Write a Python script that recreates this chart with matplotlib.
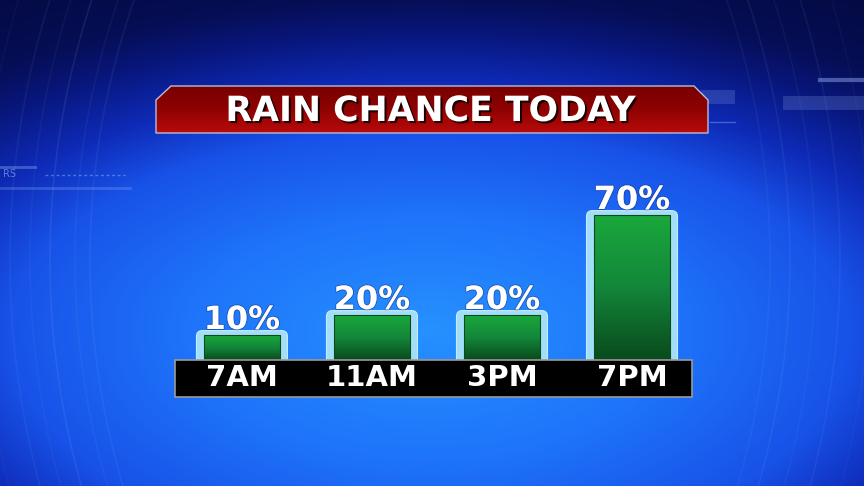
import numpy as np
import matplotlib
matplotlib.use('Agg')
import matplotlib.pyplot as plt
from matplotlib.patches import Polygon, Rectangle, Arc, FancyBboxPatch
from matplotlib.colors import LinearSegmentedColormap
import matplotlib.patheffects as pe

# ---- data ----
categories = ['7AM', '11AM', '3PM', '7PM']
rain_chance = [10, 20, 20, 70]
title_text = 'RAIN CHANCE TODAY'

W, H = 864, 486
fig = plt.figure(figsize=(W / 100, H / 100), dpi=100)

# ---- background (pixel coordinates) ----
bg = fig.add_axes([0, 0, 1, 1])
bg.set_xlim(0, W)
bg.set_ylim(H, 0)
bg.axis('off')

yy, xx = np.mgrid[0:H, 0:W] + 0.5
ry = np.where(yy < 330, 330.0, 380.0)
d = np.sqrt(((xx - 430) / 700) ** 2 + ((yy - 330) / ry) ** 2)
stops_d = [0.0, 0.35, 0.6, 0.75, 0.9, 1.0, 1.3]
stops_c = np.array([[38, 145, 255], [30, 115, 250], [24, 82, 232], [14, 42, 182],
                    [8, 22, 122], [6, 14, 85], [3, 8, 55]]) / 255.0
img = np.stack([np.interp(d, stops_d, stops_c[:, k]) for k in range(3)], axis=-1)
bg.imshow(img, extent=[0, W, H, 0], aspect='auto', zorder=0, interpolation='bilinear')

# decorative arcs
for r, a in zip([790, 805, 830, 850, 870, 900], [0.08, 0.06, 0.10, 0.05, 0.07, 0.04]):
    bg.add_patch(Arc((880, 260), 2 * r, 2 * r, theta1=140, theta2=220,
                     color=(0.6, 0.8, 1.0), alpha=a, lw=1.2, zorder=1))
for r, a in zip([800, 820, 845, 870, 900], [0.06, 0.08, 0.05, 0.07, 0.04]):
    bg.add_patch(Arc((-30, 260), 2 * r, 2 * r, theta1=-40, theta2=40,
                     color=(0.6, 0.8, 1.0), alpha=a, lw=1.2, zorder=1))
bg.plot([0, 35], [167, 167], color=(0.6, 0.75, 1.0), alpha=0.35, lw=2, zorder=1)
bg.plot([0, 130], [188, 188], color=(0.6, 0.75, 1.0), alpha=0.25, lw=2, zorder=1)
bg.plot([45, 125], [175, 175], color=(0.8, 0.9, 1.0), alpha=0.35, lw=1, ls=(0, (2, 2)), zorder=1)
bg.text(3, 177, 'RS', color=(0.7, 0.8, 1.0), alpha=0.5, fontsize=7, zorder=1)
bg.plot([820, 864], [80, 80], color=(0.6, 0.7, 1.0), alpha=0.45, lw=3, zorder=1)
bg.plot([790, 864], [103, 103], color=(0.5, 0.6, 0.9), alpha=0.25, lw=10, zorder=1)
bg.plot([708, 728], [97, 97], color=(0.5, 0.6, 0.9), alpha=0.25, lw=10, zorder=1)
bg.plot([710, 735], [122, 122], color=(0.6, 0.7, 1.0), alpha=0.4, lw=1, zorder=1)

# ---- title banner ----
banner = Polygon([(156, 133), (156, 100), (171, 86), (694, 86), (708, 100), (708, 133)],
                 closed=True, facecolor='none', edgecolor=(0.72, 0.74, 0.85), lw=1.0, zorder=3)
bg.add_patch(banner)
red_grad = np.linspace(0, 1, 64)[:, None]
red_cmap = LinearSegmentedColormap.from_list('red', ['#780000', '#8e0202', '#b80a0a'])
im = bg.imshow(red_grad, cmap=red_cmap, extent=[156, 708, 133, 86], aspect='auto', zorder=2)
im.set_clip_path(banner)
bg.text(431, 111, title_text, color='white', fontsize=25, fontweight='bold',
        family='DejaVu Sans', ha='center', va='center', zorder=4,
        path_effects=[pe.SimplePatchShadow(offset=(1.5, -1.5), shadow_rgbFace='black', alpha=0.8),
                      pe.Normal()])

# ---- bar axes ----
ax = fig.add_axes([175 / W, (H - 360) / H, 517 / W, 200 / H])
ax.set_xlim(-0.515, 3.4615)
ax.set_ylim(-2.5, 97.5)
ax.patch.set_alpha(0)
for s in ax.spines.values():
    s.set_visible(False)
ax.set_axisbelow(False)

x = np.arange(len(categories))
vals = np.array(rain_chance, dtype=float)
base = -2.5

# glow outline bars (rounded)
for xi, v in zip(x, vals):
    ax.add_patch(FancyBboxPatch((xi - 0.35, base - 6), 0.70, v - base + 6 + 2.2,
                                boxstyle='round,pad=0,rounding_size=0.045',
                                mutation_aspect=65, facecolor='#a2def8',
                                edgecolor='#c4ecfc', lw=0.8, zorder=1))

# green gradient bars
green_cmap = LinearSegmentedColormap.from_list('green', ['#1aa83c', '#13863a', '#0a4a1c'])
bars = ax.bar(x, vals - base, bottom=base, width=0.59, color='none',
              edgecolor='#0c4a1c', lw=0.8, zorder=1.2)
grad = np.linspace(0, 1, 128)[:, None]
for b, v in zip(bars, vals):
    x0 = b.get_x()
    gi = ax.imshow(grad, cmap=green_cmap, extent=[x0, x0 + b.get_width(), base, v],
                   aspect='auto', origin='upper', zorder=1.1)
    gi.set_clip_path(b)

ax.set_xlim(-0.515, 3.4615)
ax.set_ylim(-2.5, 97.5)

# value labels
for xi, v in zip(x, vals):
    ax.text(xi, v + 3.0, f'{int(v)}%', ha='center', va='baseline', color='white',
            fontsize=23, fontweight='bold', family='DejaVu Sans', zorder=3,
            path_effects=[pe.withStroke(linewidth=1.2, foreground=(0.05, 0.15, 0.45, 0.5))])

# black label strip
ax.add_patch(Rectangle((0, -37 / 200), 1, 37 / 200, transform=ax.transAxes, clip_on=False,
                       facecolor='black', edgecolor='#9a9a9a', lw=1.2, zorder=2))

ax.set_xticks(x)
ax.set_xticklabels(categories)
ax.set_yticks([])
ax.tick_params(axis='x', length=0, pad=3, labelsize=21, labelcolor='white')
for t in ax.get_xticklabels():
    t.set_fontweight('bold')
    t.set_family('DejaVu Sans')

fig.savefig('out.png', dpi=100)
